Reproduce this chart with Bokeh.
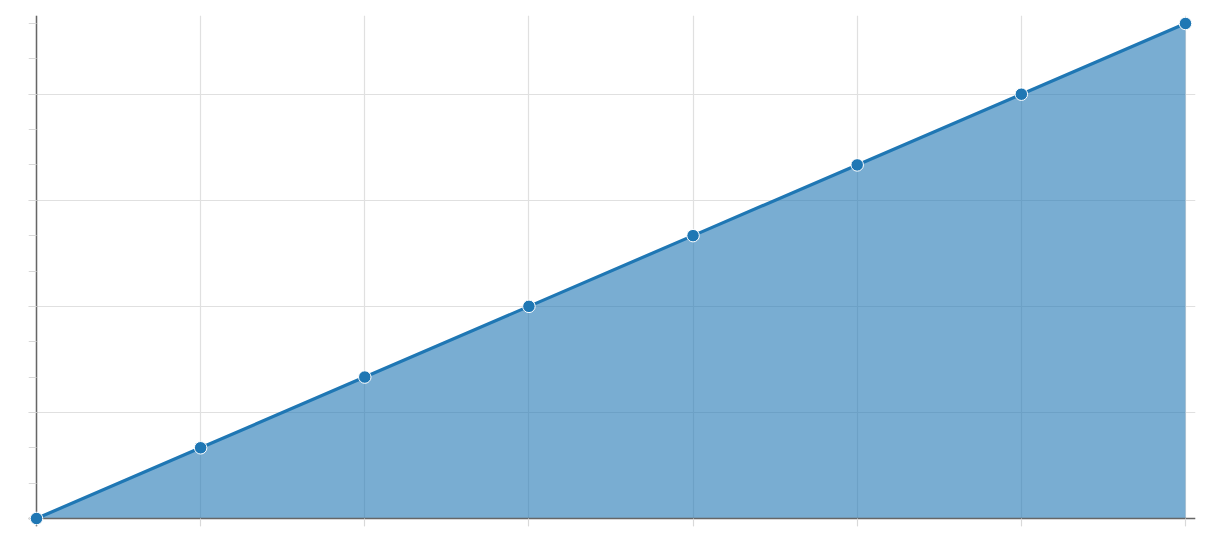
from bokeh.plotting import figure
from bokeh.models import Range1d, FixedTicker, CustomJSTickFormatter
from bokeh.embed import file_html
from bokeh.resources import INLINE

# data
xs = [0, 1, 2, 3, 4, 5, 6, 7]
ys = [0, 1, 2, 3, 4, 5, 6, 7]
x_ticks = [0, 1, 2, 3, 4, 5, 6, 7]
y_major = [0, 1.5, 3, 4.5, 6]
y_minor = [0, 0.5, 1, 1.5, 2, 2.5, 3, 3.5, 4, 4.5, 5, 5.5, 6, 6.5, 7]

BLUE = "#1f77b4"

p = figure(frame_width=1167, frame_height=511,
           x_range=Range1d(-0.0487, 7.061), y_range=Range1d(-0.113, 7.113),
           output_backend="svg", toolbar_location=None,
           min_border_left=28, min_border_top=15, min_border_right=10, min_border_bottom=10)
p.outline_line_color = None
p.background_fill_color = "white"
p.border_fill_color = "white"

p.varea(x=xs, y1=[0]*len(xs), y2=ys, fill_color=BLUE, fill_alpha=0.6)
p.line(xs, ys, line_color=BLUE, line_width=3.2, level="overlay")
p.scatter(xs, ys, size=12.5, fill_color=BLUE, line_color="white", line_width=1, level="overlay")

empty = CustomJSTickFormatter(code="return ''")
for ax in (p.xaxis[0], p.yaxis[0]):
    ax.fixed_location = 0
    ax.formatter = empty
    ax.axis_line_color = "#666666"
    ax.axis_line_width = 1.5
    ax.major_tick_line_color = "#d9d9d9"
    ax.minor_tick_line_color = "#d9d9d9"
    ax.major_tick_in = 0
    ax.minor_tick_in = 0
    ax.major_tick_out = 8
    ax.minor_tick_out = 8
    ax.major_label_standoff = 0

p.xaxis[0].ticker = FixedTicker(ticks=x_ticks)
p.yaxis[0].ticker = FixedTicker(ticks=y_major, minor_ticks=y_minor)

p.xgrid.ticker = FixedTicker(ticks=x_ticks)
p.ygrid.ticker = FixedTicker(ticks=y_major)
p.grid.grid_line_color = "#e0e0e0"
p.grid.grid_line_width = 1.2

open("out.html", "w").write(file_html(p, INLINE))
